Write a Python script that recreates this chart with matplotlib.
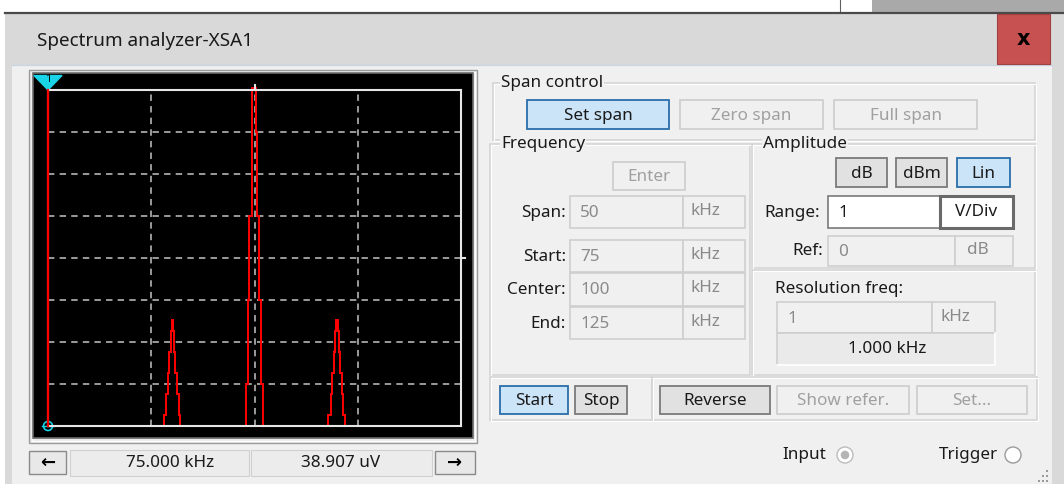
"""Multisim spectrum analyzer (XSA1) window, redrawn with matplotlib.

AM spectrum: 100 kHz carrier with 90 / 110 kHz sidebands, 1 V/Div linear.
The whole window is drawn in pixel coordinates on one full-figure axes,
the trace itself lives on its own axes placed over the black screen.
"""
import matplotlib
matplotlib.use("Agg")
import matplotlib.pyplot as plt
from matplotlib.patches import Rectangle, Polygon, Circle

plt.rcParams["font.family"] = ["Noto Sans", "DejaVu Sans"]

W, H = 1064, 484

# ---- instrument settings -------------------------------------------------
FREQ_START = 75.0      # kHz
FREQ_END = 125.0       # kHz
V_DIVS = 8             # vertical divisions, 1 V/Div
F_DIVS = 4
CURSOR_FREQ = 75.0

# trace: step edges (kHz) and levels (V) of each peak
CARRIER_EDGES = [98.96, 99.17, 99.39, 99.64, 99.73, 100.22, 100.36, 100.58, 100.79, 100.99]
CARRIER_LEVELS = [1.0, 3.0, 5.0, 7.0, 8.05, 7.0, 5.0, 3.0, 1.0]
LSB_EDGES = [88.99, 89.27, 89.48, 89.67, 89.84, 89.96, 90.12, 90.24, 90.40, 90.60, 90.79, 91.00]
LSB_LEVELS = [0.25, 0.75, 1.25, 1.75, 2.25, 2.52, 2.25, 1.75, 1.25, 0.75, 0.25]
USB_EDGES = [108.97, 109.24, 109.45, 109.63, 109.80, 109.92, 110.08, 110.20, 110.36, 110.56, 110.76, 110.97]
USB_LEVELS = [0.25, 0.75, 1.25, 1.75, 2.25, 2.52, 2.25, 1.75, 1.25, 0.75, 0.25]

# ---- panel texts ---------------------------------------------------------
TITLE = "Spectrum analyzer-XSA1"
READ_FREQ = "75.000 kHz"
READ_AMP = "38.907 uV"
SPAN_BTNS = ["Set span", "Zero span", "Full span"]
FREQ_ROWS = [("Span:", "50"), ("Start:", "75"), ("Center:", "100"), ("End:", "125")]
AMP_BTNS = ["dB", "dBm", "Lin"]
RANGE_VAL, RANGE_UNIT = "1", "V/Div"
REF_VAL, REF_UNIT = "0", "dB"
RES_VAL, RES_UNIT, RES_SHOW = "1", "kHz", "1.000 kHz"
RUN_BTNS = ["Start", "Stop"]
TOOL_BTNS = ["Reverse", "Show refer.", "Set..."]

BG = "#f0f0f0"
TITLE_BG = "#d9d9d9"
BLUE_FC, BLUE_EC = "#cce4f7", "#2a6ea8"
GRAY_FC, GRAY_EC = "#e1e1e1", "#7a7a7a"
DIS_EC, DIS_TXT = "#cfcfcf", "#8a8a8a"
TXT = "#1a1a1a"
FS = 12.3


def box(ax, x0, y0, x1, y1, fc="none", ec="none", lw=1.0, z=2):
    ax.add_patch(Rectangle((x0, y0), x1 - x0, y1 - y0, facecolor=fc,
                           edgecolor=ec, linewidth=lw, zorder=z))


def text(ax, x, y, s, ha="left", color=TXT, size=FS, **kw):
    ax.text(x, y, s, ha=ha, va="center", color=color, fontsize=size, zorder=5, **kw)


def button(ax, x0, y0, x1, y1, s, kind):
    fc, ec, tc = {"blue": (BLUE_FC, BLUE_EC, TXT),
                  "gray": (GRAY_FC, GRAY_EC, TXT),
                  "off": (BG, DIS_EC, "#a0a0a0")}[kind]
    box(ax, x0, y0, x1, y1, fc, ec, 1.3)
    text(ax, (x0 + x1) / 2, (y0 + y1) / 2 + 1, s, ha="center", color=tc)


def group(ax, x0, y0, x1, y1, label=None, lx=None):
    box(ax, x0, y0, x1, y1, "none", "#d5d5d5", 1.2, z=1)
    box(ax, x0 + 1, y0 + 1, x1 + 1, y1 + 1, "none", "#ffffff", 0.8, z=1)
    if label:
        t = ax.text(lx, y0, label, ha="left", va="center", fontsize=FS,
                    color=TXT, zorder=5)
        t.set_bbox(dict(facecolor=BG, edgecolor="none", pad=1.0))


fig = plt.figure(figsize=(W / 100, H / 100), dpi=100)
fig.patch.set_facecolor("white")
ui = fig.add_axes([0, 0, 1, 1])
ui.set_xlim(0, W)
ui.set_ylim(H, 0)
ui.axis("off")

# ---- window chrome -------------------------------------------------------
box(ui, 872, 0, W, 12, "#a9a9a9", z=1)
ui.plot([840, 840], [0, 12], color="#606060", lw=0.8, zorder=1)
box(ui, 5, 12, W, H, TITLE_BG, z=0)
ui.plot([5, W], [12.5, 12.5], color="#4a4a4a", lw=1.6, zorder=1)
box(ui, 12, 65, 1052, H, BG, z=0)
ui.plot([12, 1052], [65, 65], color="#c8d4e0", lw=0.9, zorder=1)
text(ui, 37, 41, TITLE, size=13.6)
box(ui, 997, 14, 1050, 64, "#c75050", "#a04040", 0.8)
ui.text(1023.5, 39, "x", ha="center", va="center", fontsize=15,
        fontweight="bold", color="black", family="DejaVu Sans", zorder=5)

# ---- screen --------------------------------------------------------------
box(ui, 29, 70, 477, 443, "#ececec", "#9a9a9a", 1.0, z=1)
box(ui, 31.5, 71.5, 474.5, 440.5, "none", "#ffffff", 0.8, z=1)
box(ui, 33, 73, 473, 438, "black", "#6a6a6a", 1.2, z=1)

PX0, PX1, PY0, PY1 = 48.3, 460.7, 90.0, 425.7
scr = fig.add_axes([PX0 / W, 1 - PY1 / H, (PX1 - PX0) / W, (PY1 - PY0) / H])
scr.patch.set_visible(False)
scr.set_xlim(FREQ_START, FREQ_END)
scr.set_ylim(0, V_DIVS)
step = (FREQ_END - FREQ_START) / F_DIVS
for i in range(1, F_DIVS):
    scr.axvline(FREQ_START + i * step, color="#c4c4c4", lw=1.1,
                dashes=(4.2, 3.4), zorder=1)
for j in range(1, V_DIVS):
    scr.axhline(j, color="#c4c4c4", lw=1.1, dashes=(4.2, 3.4), zorder=1)
for edges, levels in [(CARRIER_EDGES, CARRIER_LEVELS),
                      (LSB_EDGES, LSB_LEVELS), (USB_EDGES, USB_LEVELS)]:
    scr.stairs(levels, edges, baseline=0, color="#ff0000", lw=1.4,
               zorder=2, clip_on=False)
for side in ["left", "right", "top", "bottom"]:
    scr.spines[side].set_color("#e6e6e6")
    scr.spines[side].set_linewidth(1.5)
    scr.spines[side].set_zorder(3)
scr.set_xticks([])
scr.set_yticks([])
# centre ticks on the frame
scr.plot([100, 100], [8, 8.13], color="#e6e6e6", lw=1.5, clip_on=False, zorder=3)
scr.plot([125, 125.5], [4, 4], color="#e6e6e6", lw=1.5, clip_on=False, zorder=3)
# cursor 1
scr.axvline(CURSOR_FREQ, color="#ff0000", lw=1.6, zorder=4, clip_on=False)
ui.add_patch(Polygon([(34, 75.5), (62, 75.5), (48, 90)], closed=True,
                     facecolor="#19d3e6", edgecolor="#19d3e6", zorder=6))
ui.text(48, 80, "1", ha="center", va="center", fontsize=8, fontweight="bold",
        color="black", zorder=7)
ui.add_patch(Circle((48, 426), 4.5, facecolor="none", edgecolor="#19d3e6",
                    lw=1.2, zorder=6))
ui.plot([42, 54], [426, 426], color="#19d3e6", lw=1.0, zorder=6)

# ---- readout bar ---------------------------------------------------------
box(ui, 29, 451, 66, 474, "#e8e8e8", "#8a8a8a", 1.0)
text(ui, 47.5, 463, "\u2190", ha="center", size=13, fontweight="bold", color="black")
box(ui, 70, 450, 249, 476, "#ececec", "#d0d0d0", 0.8)
box(ui, 251, 450, 432, 476, "#ececec", "#d0d0d0", 0.8)
text(ui, 170, 463, READ_FREQ, ha="center")
text(ui, 341, 463, READ_AMP, ha="center")
box(ui, 435, 451, 475, 474, "#e8e8e8", "#8a8a8a", 1.0)
text(ui, 455, 463, "\u2192", ha="center", size=13, fontweight="bold", color="black")

# ---- span control --------------------------------------------------------
group(ui, 493, 83, 1035, 140, "Span control", 501)
for (x0, x1), s, k in zip([(527, 669), (680, 823), (834, 977)], SPAN_BTNS,
                          ["blue", "off", "off"]):
    button(ui, x0, 100, x1, 129, s, k)

# ---- frequency -----------------------------------------------------------
group(ui, 490, 144, 750, 375, "Frequency", 501)
button(ui, 613, 162, 685, 190, "Enter", "off")
for (y0, y1), (lab, val) in zip([(196, 228), (240, 272), (273, 306), (307, 339)], FREQ_ROWS):
    text(ui, 566, (y0 + y1) / 2 + 1, lab, ha="right")
    box(ui, 570, y0, 683, y1, BG, DIS_EC, 1.2)
    box(ui, 683, y0, 745, y1, BG, DIS_EC, 1.2)
    text(ui, 580, (y0 + y1) / 2 + 1, val, color=DIS_TXT)
    text(ui, 690, (y0 + y1) / 2 - 1, "kHz", color=DIS_TXT)

# ---- amplitude -----------------------------------------------------------
group(ui, 752, 144, 1035, 268, "Amplitude", 763)
for (x0, x1), s, k in zip([(836, 887), (896, 947), (957, 1010)], AMP_BTNS,
                          ["gray", "gray", "blue"]):
    button(ui, x0, 158, x1, 187, s, k)
text(ui, 764, 213, "Range:")
box(ui, 828, 196, 940, 228, "white", "#7a7a7a", 1.2)
box(ui, 940, 196, 1013, 228, "white", "#6a6a6a", 2.2)
text(ui, 838, 213, RANGE_VAL)
text(ui, 976, 212, RANGE_UNIT, ha="center")
text(ui, 823, 251, "Ref:", ha="right")
box(ui, 828, 236, 955, 266, BG, DIS_EC, 1.2)
box(ui, 955, 236, 1013, 266, BG, DIS_EC, 1.2)
text(ui, 838, 252, REF_VAL, color=DIS_TXT)
text(ui, 978, 250, REF_UNIT, ha="center", color=DIS_TXT)

# ---- resolution ----------------------------------------------------------
group(ui, 752, 270, 1035, 375)
text(ui, 775, 289, "Resolution freq:")
box(ui, 777, 302, 932, 333, BG, DIS_EC, 1.2)
box(ui, 932, 302, 995, 333, BG, DIS_EC, 1.2)
text(ui, 787, 319, RES_VAL, color=DIS_TXT)
text(ui, 940, 317, RES_UNIT, color=DIS_TXT)
box(ui, 777, 333, 995, 365, "#eaeaea", "none")
ui.plot([777, 777, 995], [365, 333, 333], color=DIS_EC, lw=1.2, zorder=3)
ui.plot([777, 995, 995], [365, 365, 333], color="white", lw=1.2, zorder=3)
text(ui, 887, 349, RES_SHOW, ha="center")

# ---- run / tool buttons --------------------------------------------------
group(ui, 490, 377, 652, 420)
group(ui, 652, 377, 1037, 420)
for (x0, x1), s, k in zip([(500, 568), (575, 627)], RUN_BTNS, ["blue", "gray"]):
    button(ui, x0, 386, x1, 414, s, k)
for (x0, x1), s, k in zip([(660, 770), (777, 909), (917, 1027)], TOOL_BTNS,
                          ["gray", "off", "off"]):
    button(ui, x0, 386, x1, 414, s, k)

# ---- input / trigger -----------------------------------------------------
text(ui, 804, 455, "Input", ha="center")
ui.add_patch(Circle((845, 455), 8, facecolor="white", edgecolor="#bcbcbc", lw=1.0, zorder=4))
ui.add_patch(Circle((845, 455), 4.3, facecolor="#b5b5b5", edgecolor="none", zorder=5))
text(ui, 968, 455, "Trigger", ha="center")
ui.add_patch(Circle((1013, 455), 8, facecolor="white", edgecolor="#9a9a9a", lw=1.0, zorder=4))
for gx, gy in [(1046, 470), (1042, 475), (1046, 475), (1038, 480), (1042, 480), (1046, 480)]:
    box(ui, gx, gy, gx + 2, gy + 2, "#9a9a9a", z=3)

fig.savefig("out.png", dpi=100, facecolor=fig.get_facecolor())
